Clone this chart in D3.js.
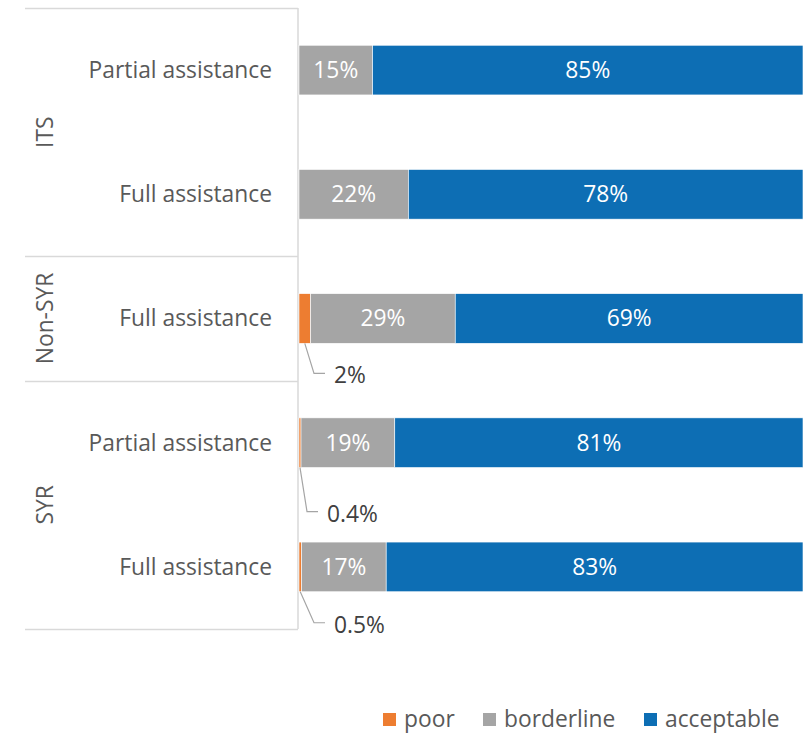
<!DOCTYPE html>
<html>
<head>
<meta charset="utf-8">
<script src="https://cdn.jsdelivr.net/npm/d3@7"></script>
<style>
  html, body { margin: 0; padding: 0; background: #fff; }
  svg { display: block; }
  text { font-family: "Open Sans", Lato, sans-serif; }
</style>
</head>
<body>
<svg id="chart" width="810" height="734"></svg>
<script>
// ---- data ----
const groups = ["ITS", "ITS", "Non-SYR", "SYR", "SYR"];
const categories = ["Partial assistance", "Full assistance", "Full assistance", "Partial assistance", "Full assistance"];
const seriesNames = ["poor", "borderline", "acceptable"];
const poor = [0, 0, 2.3, 0.4, 0.5];
const borderline = [14.6, 21.7, 28.7, 18.6, 16.8];
const acceptable = [85.4, 78.3, 69.0, 81.0, 82.7];
const colors = ["#ED7D31", "#A5A5A5", "#0D6EB4"];

// ---- layout ----
const svg = d3.select("#chart");
const axisX = 298, plotRight = 803, plotTop = 8, plotBottom = 629, lineLeft = 25;
const fontSize = 22.8;
// offsets for the outside labels of small "poor" segments (dx from bar start, dy from bar bottom)
const outsideOffsets = [null, null, [35, 32], [28, 46], [35, 33]];

const rows = categories.map((c, i) => ({
  i, group: groups[i], cat: c,
  poor: poor[i], borderline: borderline[i], acceptable: acceptable[i]
}));

const y = d3.scaleBand()
  .domain(rows.map(r => r.i))
  .range([plotTop, plotBottom])
  .paddingInner(0.6)
  .paddingOuter(0.3);
const x = d3.scaleLinear().domain([0, 100]).range([axisX + 1, plotRight]);

const stack = d3.stack().keys(seriesNames);
const stacked = stack(rows);

const color = d3.scaleOrdinal().domain(seriesNames).range(colors);
const fmt = v => v < 1 ? d3.format(".1f")(v) + "%" : Math.round(v) + "%";

// axis lines
const axisColor = "#D9D9D9";
svg.append("line")
  .attr("x1", axisX).attr("x2", axisX)
  .attr("y1", plotTop).attr("y2", plotBottom)
  .attr("stroke", axisColor).attr("stroke-width", 1.5);

// group boundaries
const groupNames = Array.from(new Set(groups));
const step = y.step();
const groupInfo = groupNames.map(g => {
  const idx = rows.filter(r => r.group === g).map(r => r.i);
  const first = d3.min(idx), last = d3.max(idx);
  const y0 = y(first) - (y.paddingInner() * step) / 2;
  const y1 = y(last) + y.bandwidth() + (y.paddingInner() * step) / 2;
  return { g, y0, y1 };
});
const boundaries = [plotTop].concat(groupInfo.map((d, k) => k === groupInfo.length - 1 ? plotBottom : d.y1));
svg.selectAll("line.sep").data(boundaries).join("line")
  .attr("class", "sep")
  .attr("x1", lineLeft).attr("x2", axisX)
  .attr("y1", d => Math.round(d) + 0.5).attr("y2", d => Math.round(d) + 0.5)
  .attr("stroke", axisColor).attr("stroke-width", 1.5);

// group labels (rotated)
svg.selectAll("text.group").data(groupInfo).join("text")
  .attr("class", "group")
  .attr("transform", d => `translate(53, ${(Math.max(d.y0, plotTop) + Math.min(d.y1, plotBottom)) / 2}) rotate(-90)`)
  .attr("text-anchor", "middle")
  .attr("fill", "#595959")
  .attr("font-size", fontSize)
  .text(d => d.g);

// category labels
svg.selectAll("text.cat").data(rows).join("text")
  .attr("class", "cat")
  .attr("x", axisX - 26)
  .attr("y", d => y(d.i) + y.bandwidth() / 2)
  .attr("dy", "0.35em")
  .attr("text-anchor", "end")
  .attr("fill", "#595959")
  .attr("font-size", fontSize)
  .text(d => d.cat);

// bars
const layers = svg.selectAll("g.layer").data(stacked).join("g")
  .attr("class", "layer")
  .attr("fill", d => color(d.key));

layers.selectAll("rect").data(d => d.map(s => ({ s, key: d.key }))).join("rect")
  .attr("x", d => x(d.s[0]))
  .attr("y", d => y(d.s.data.i))
  .attr("width", d => Math.max(0, x(d.s[1]) - x(d.s[0])))
  .attr("height", y.bandwidth())
  .attr("stroke", "#ffffff")
  .attr("stroke-width", 0.6);

// inside labels
stacked.forEach(layer => {
  layer.forEach(s => {
    const v = s[1] - s[0];
    const w = x(s[1]) - x(s[0]);
    if (v > 0 && w > 40) {
      svg.append("text")
        .attr("x", (x(s[0]) + x(s[1])) / 2)
        .attr("y", y(s.data.i) + y.bandwidth() / 2)
        .attr("dy", "0.35em")
        .attr("text-anchor", "middle")
        .attr("fill", "#ffffff")
        .attr("font-size", fontSize)
        .text(fmt(v));
    }
  });
});

// outside labels with leader lines for small poor segments
rows.forEach(r => {
  const off = outsideOffsets[r.i];
  if (!off || r.poor <= 0) return;
  const bx = (x(0) + x(r.poor)) / 2;
  const by = y(r.i) + y.bandwidth();
  const lx = x(0) + off[0];
  const ly = by + off[1];
  svg.append("path")
    .attr("d", `M${bx},${by} L${lx - 20},${ly - 2} L${lx - 9},${ly - 2}`)
    .attr("fill", "none")
    .attr("stroke", "#A5A5A5")
    .attr("stroke-width", 1.2);
  svg.append("text")
    .attr("x", lx)
    .attr("y", ly)
    .attr("dy", "0.35em")
    .attr("fill", "#404040")
    .attr("font-size", fontSize)
    .text(fmt(r.poor));
});

// legend
const legendX = [383, 483, 644];
const legend = svg.selectAll("g.legend").data(seriesNames).join("g")
  .attr("class", "legend")
  .attr("transform", (d, k) => `translate(${legendX[k]}, 713)`);
legend.append("rect")
  .attr("width", 13).attr("height", 13)
  .attr("fill", d => color(d));
legend.append("text")
  .attr("x", 21).attr("y", 6.5)
  .attr("dy", "0.35em")
  .attr("fill", "#595959")
  .attr("font-size", fontSize)
  .text(d => d);
</script>
</body>
</html>
